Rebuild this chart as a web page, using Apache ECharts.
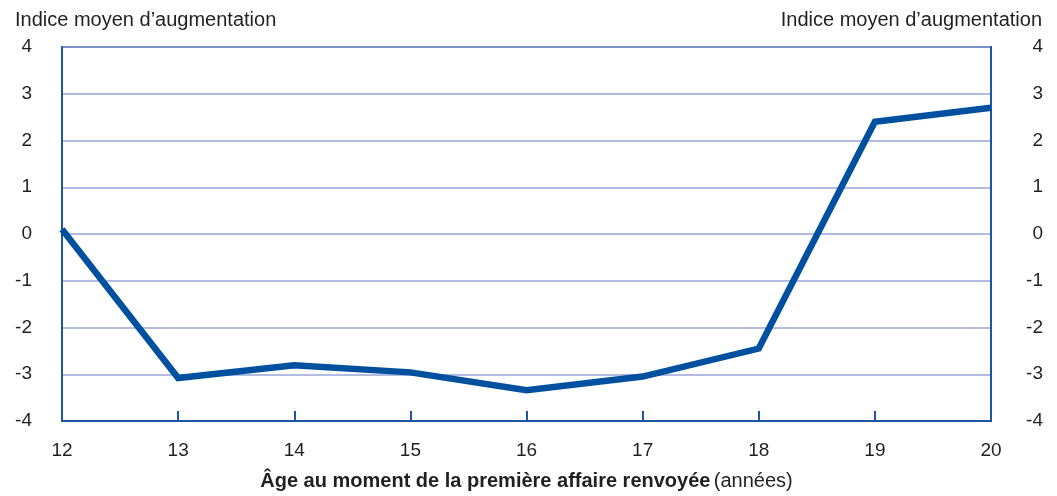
<!DOCTYPE html>
<html>
<head>
<meta charset="utf-8">
<script src="https://cdn.jsdelivr.net/npm/echarts@6/dist/echarts.min.js"></script>
<style>html,body{margin:0;padding:0;background:#fff}#c{width:1057px;height:496px}</style>
</head>
<body>
<div id="c"></div>
<script>
const categories = ['12','13','14','15','16','17','18','19','20'];
const values = [0.1, -3.08, -2.81, -2.96, -3.34, -3.05, -2.45, 2.4, 2.7];
const yTicks = [-4, -3, -2, -1, 0, 1, 2, 3, 4];
const yName = "Indice moyen d\u2019augmentation";
const xNameBold = "\u00c2ge au moment de la premi\u00e8re affaire renvoy\u00e9e";
const xNameRegular = "(ann\u00e9es)";

const FONT = '"Liberation Sans Narrow", "Liberation Sans", Arial, sans-serif';
const AXIS = '#1c56a2';
const TXT = '#231f20';
const chart = echarts.init(document.getElementById('c'));
const yAxisBase = {
  type: 'value', min: yTicks[0], max: yTicks[yTicks.length-1], interval: 1,
  axisLine: {show: true, onZero: false, lineStyle: {color: AXIS, width: 2}},
  axisTick: {show: false},
  splitLine: {show: true, lineStyle: {color: '#9aa5d6', width: 1.5}},
  axisLabel: {color: TXT, fontSize: 19, fontFamily: FONT, padding: [6, 0, 0, 0]}
};
chart.setOption({
  animation: false,
  title: [
    {text: yName, left: 10, top: 5, textStyle: {fontSize: 20, fontWeight: 'normal', color: TXT, fontFamily: FONT}},
    {text: yName, right: 10, top: 5, textStyle: {fontSize: 20, fontWeight: 'normal', color: TXT, fontFamily: FONT}}
  ],
  grid: {left: 62, right: 66, top: 47, bottom: 73, show: true, borderColor: AXIS, borderWidth: 2, backgroundColor: 'transparent'},
  xAxis: {
    type: 'category', data: categories, boundaryGap: false,
    axisLine: {onZero: false, lineStyle: {color: AXIS, width: 2}},
    axisTick: {inside: true, length: 10, lineStyle: {color: AXIS, width: 2}},
    axisLabel: {color: TXT, fontSize: 19, fontFamily: FONT, margin: 20},
    name: '{b|' + xNameBold + '} {n|' + xNameRegular + '}',
    nameLocation: 'middle', nameGap: 50,
    nameTextStyle: {
      rich: {
        b: {fontSize: 20, fontWeight: 'bold', color: TXT, fontFamily: FONT},
        n: {fontSize: 20, fontWeight: 'normal', color: TXT, fontFamily: FONT}
      }
    }
  },
  yAxis: [
    Object.assign({}, yAxisBase, {position: 'left', axisLabel: Object.assign({}, yAxisBase.axisLabel, {margin: 30})}),
    Object.assign({}, yAxisBase, {position: 'right', splitLine: {show: false}, axisLabel: Object.assign({}, yAxisBase.axisLabel, {align: 'right', margin: 52})})
  ],
  series: [{
    type: 'line', data: values, showSymbol: false, symbol: 'none',
    lineStyle: {color: '#0050a0', width: 6.5, join: 'miter'}
  }]
});
</script>
</body>
</html>
